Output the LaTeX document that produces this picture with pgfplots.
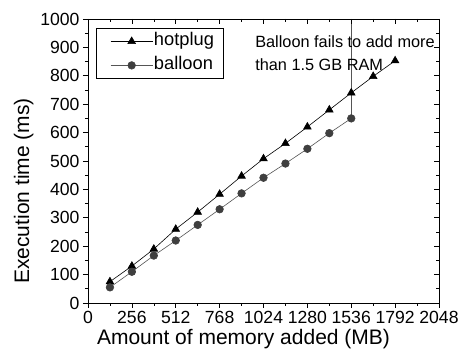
\documentclass[border=0pt]{standalone}
\usepackage{pgfplots}
\pgfplotsset{compat=1.18}
\usepackage{fontspec}
\setmainfont{Liberation Sans}
\definecolor{balloonmark}{HTML}{3F3F3F}
\definecolor{balloonline}{HTML}{555555}
\begin{document}
\begin{tikzpicture}
\begin{axis}[
  scale only axis, width=351pt, height=284pt,
  xmin=0, xmax=2048, ymin=0, ymax=1000,
  xtick={0,256,...,2048}, ytick={0,100,...,1000},
  minor x tick num=1, minor y tick num=1,
  xtick pos=bottom, ytick pos=left, tick align=outside,
  major tick length=5pt, minor tick length=3pt,
  tick style={black, line width=0.6pt},
  axis line style={line width=0.8pt},
  /pgf/number format/assume math mode=true,
  /pgf/number format/1000 sep={},
  ticklabel style={font=\fontsize{17.6}{17.6}\selectfont},
  xticklabel style={inner xsep=0pt},
  xlabel={Amount of memory added (MB)},
  ylabel={Execution time (ms)},
  label style={font=\fontsize{21}{21}\selectfont},
  xlabel style={xshift=-20pt, yshift=2pt},
  ylabel style={xshift=-30pt, yshift=0pt},
  legend style={at={(0.023,0.968)}, anchor=north west, draw=black, line width=0.6pt,
    font=\fontsize{18.3}{20}\selectfont, inner xsep=8pt, inner ysep=4.5pt, row sep=7pt,
    nodes={inner xsep=1pt, inner ysep=0pt, text height=13pt, text depth=4pt}},
  legend cell align=left,
  legend image code/.code={\path (-6pt,0pt); \draw[mark repeat=2,mark phase=2,#1] plot coordinates {(0pt,0pt)(21pt,0pt)(42pt,0pt)};},
]
\addplot[black, line width=0.6pt, mark=triangle*, mark size=4.4pt, mark options={solid}] coordinates {
(128,75)(256,130)(384,190)(512,260)(640,320)(768,383)(896,447)(1024,508)(1152,562)(1280,620)(1408,680)(1536,740)(1664,798)(1792,853)};
\addlegendentry{hotplug}
\addplot[balloonline, line width=0.6pt, mark=*, mark size=3.8pt, mark options={fill=balloonmark, draw=balloonmark}] coordinates {
(128,55)(256,110)(384,167)(512,220)(640,275)(768,330)(896,386)(1024,441)(1152,491)(1280,543)(1408,598)(1536,650)};
\addlegendentry{balloon}
\addplot[balloonline, line width=0.6pt, forget plot] coordinates {(1536,650)(1536,1000)};
\node[anchor=north west, inner sep=0pt, align=left, font=\fontsize{16.3}{23}\selectfont] at (axis cs:975,942) {Balloon fails to add more\\than 1.5 GB RAM};
\end{axis}
\begin{axis}[
  scale only axis, width=351pt, height=284pt,
  xmin=0, xmax=2048, ymin=0, ymax=1000,
  xtick={0,256,...,2048}, ytick={0,100,...,1000},
  minor x tick num=1, minor y tick num=1,
  xtick pos=top, ytick pos=right, tick align=inside,
  major tick length=5pt, minor tick length=3pt,
  tick style={black, line width=0.6pt},
  axis line style={line width=0.8pt},
  xticklabels={}, yticklabels={},
]
\end{axis}
\pgfresetboundingbox
\path ([shift={(-88pt,-49pt)}]current axis.south west) rectangle ([shift={(19pt,19pt)}]current axis.north east);
\end{tikzpicture}
\end{document}
